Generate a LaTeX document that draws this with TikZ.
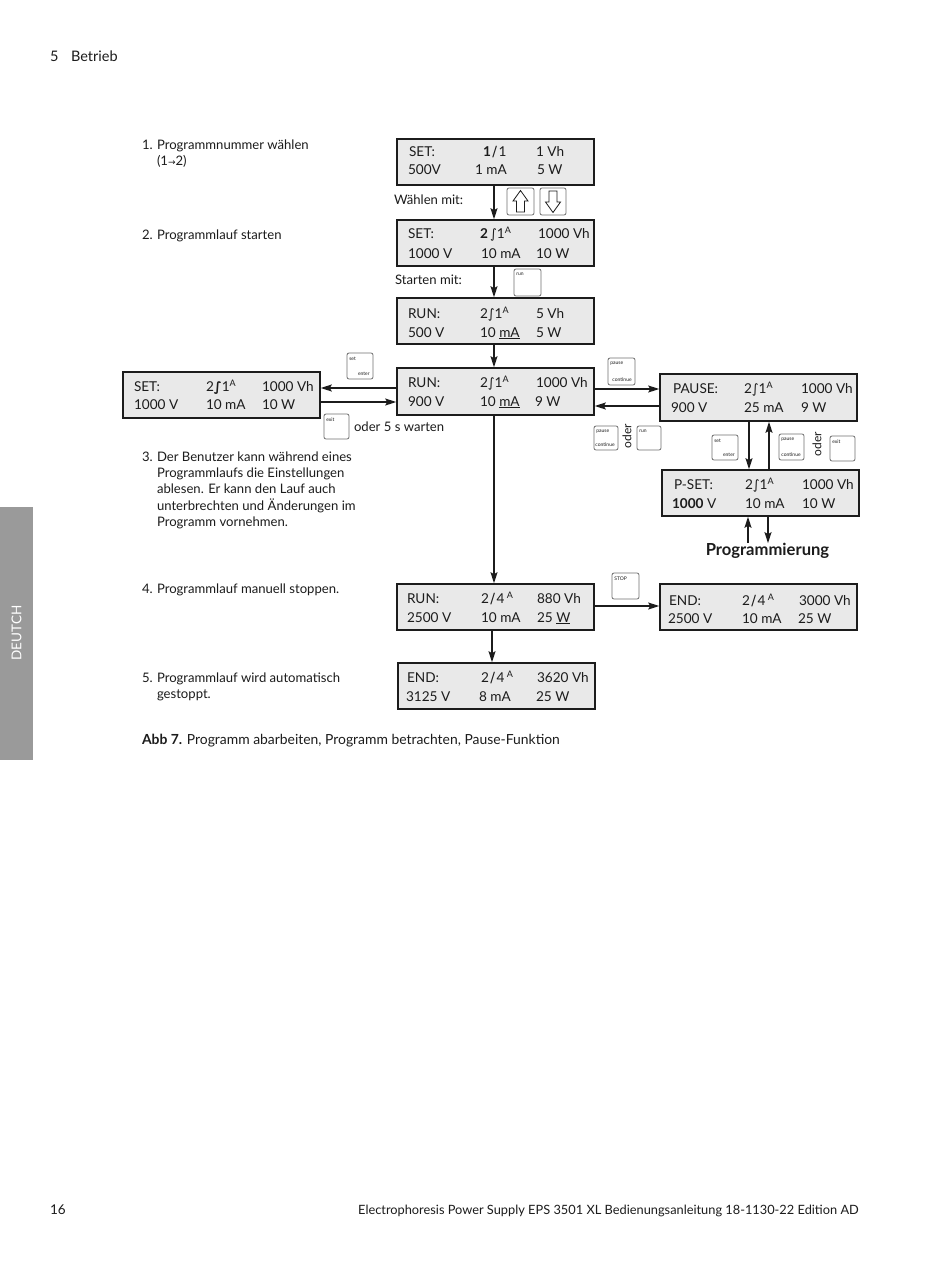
\documentclass[tikz,border=0pt]{standalone}
\usepackage{fontspec}
\setmainfont{Lato}
\newfontfamily\sym{DejaVu Sans}
\usetikzlibrary{arrows.meta,calc}
\definecolor{lcdfill}{HTML}{E9E9E9}
\definecolor{ink}{HTML}{1C1C1C}
\definecolor{keyline}{HTML}{707070}
\definecolor{tab}{HTML}{9A9A9A}
\newcounter{tc}
\newcommand{\lcdfont}{\fontsize{13.6}{16}\selectfont}
\newcommand{\bodyfont}{\fontsize{13.1}{15}\selectfont}
\newcommand{\tx}[3]{\stepcounter{tc}\node[txt] (t\thetc) at (#1,#2) {\lcdfont #3};}
\newcommand{\bx}[3]{\stepcounter{tc}\node[txt] (t\thetc) at (#1,#2) {\bodyfont #3};}
\newcommand{\ramp}{{\sym\fontsize{13}{13}\selectfont ∫}}
\newcommand{\slashg}{\kern1.5pt{\sym\fontsize{14}{14}\selectfont ∕}\kern1.5pt}
\newcommand{\sA}{\raisebox{4.5pt}{\fontsize{9}{9}\selectfont A}}
\newcommand{\lcd}[5]{\node[lcd,minimum width=#4-#2,minimum height=#5-#3] (#1) at ({(#2+#4)/2},{(#3+#5)/2}) {};}
\newcommand{\keybox}[7]{\node[keyb,minimum width=#4,minimum height=#5] (#1) at ({#2+#4/2},{#3+#5/2}) {};
 \node[keyl,anchor=north west] (#1t) at ([xshift=2.5pt,yshift=-4pt]#1.north west) {#6};
 \node[keyl,anchor=south east] (#1b) at ([xshift=-3.5pt,yshift=4pt]#1.south east) {#7};}
\tikzset{
 lcd/.style={draw=ink,line width=1.7pt,fill=lcdfill,inner sep=0pt,outer sep=0.8pt},
 txt/.style={anchor=base west,inner sep=0pt,outer sep=0pt,text=ink},
 keyb/.style={draw=keyline,line width=0.8pt,rounded corners=2pt,fill=white,inner sep=0pt},
 keyl/.style={inner sep=0pt,font=\fontsize{5}{5.5}\selectfont,text=ink},
 conn/.style={draw=ink,line width=1.5pt,-{Stealth[length=11pt,width=7pt,inset=2pt]}},
 karrow/.style={draw=ink,line width=0.8pt,fill=white,line join=miter}
}
\begin{document}
\begin{tikzpicture}[x=1pt,y=-1pt]
\useasboundingbox (0,0) rectangle (950,1266);
\fill[white] (0,0) rectangle (950,1266);
% side tab
\node[fill=tab,minimum width=33pt,minimum height=253pt,inner sep=0pt,anchor=north west] (sidetab) at (0,507) {};
\node[rotate=90,text=white,inner sep=0pt,font=\fontsize{13.5}{15}\selectfont] (deutch) at (16.5,633) {DEUTCH};
% header and footer
\node[txt] (hd1) at (50,61) {\fontsize{14.5}{16}\selectfont 5};
\node[txt] (hd2) at (71,61) {\fontsize{14.5}{16}\selectfont Betrieb};
\node[txt] (ft1) at (50,1214) {\fontsize{13.5}{16}\selectfont 16};
\node[anchor=base east,inner sep=0pt,text=ink] (ft2) at (859,1214) {\fontsize{12.8}{16}\selectfont Electrophoresis Power Supply EPS 3501 XL Bedienungsanleitung 18-1130-22 Edition AD};
% boxes
\lcd{a}{397}{139}{594}{185}
\lcd{b}{397}{220}{594}{266}
\lcd{c}{397}{298}{594}{344}
\lcd{d}{397}{368}{594}{415}
\lcd{s}{123}{372}{320}{418}
\lcd{p}{660}{374}{857}{421}
\lcd{q}{662}{470}{859}{516}
\lcd{e}{397}{584}{594}{630}
\lcd{f}{660}{584}{857}{630}
\lcd{g}{398}{663}{595}{709}
% box texts
\tx{409}{156}{SET:}\tx{483}{156}{\textbf{1}\slashg 1}\tx{536}{156}{1 Vh}
\tx{408}{174}{500V}\tx{475}{174}{1 mA}\tx{537}{174}{5 W}
\tx{408}{238}{SET:}\tx{480}{238}{\textbf{2}\,\ramp 1\sA}\tx{538}{238}{1000 Vh}
\tx{408}{258}{1000 V}\tx{481}{258}{10 mA}\tx{536}{258}{10 W}
\tx{408}{318}{RUN:}\tx{480}{318}{2\ramp 1\sA}\tx{536}{318}{5 Vh}
\tx{408}{337}{500 V}\tx{480}{337}{10 \underline{mA}}\tx{536}{337}{5 W}
\tx{408}{387}{RUN:}\tx{480}{387}{2\ramp 1\sA}\tx{536}{387}{1000 Vh}
\tx{408}{406}{900 V}\tx{480}{406}{10 \underline{mA}}\tx{535}{406}{9 W}
\tx{134}{391}{SET:}\tx{206}{391}{2\textbf{\ramp}1\sA}\tx{262}{391}{1000 Vh}
\tx{134}{409}{1000 V}\tx{206}{409}{10 mA}\tx{262}{409}{10 W}
\tx{673}{393}{PAUSE:}\tx{744}{393}{2\ramp 1\sA}\tx{801}{393}{1000 Vh}
\tx{671}{412}{900 V}\tx{744}{412}{25 mA}\tx{801}{412}{9 W}
\tx{674}{489}{P-SET:}\tx{745}{489}{2\ramp 1\sA}\tx{802}{489}{1000 Vh}
\tx{672}{508}{\textbf{1000} V}\tx{745}{508}{10 mA}\tx{802}{508}{10 W}
\tx{407}{603}{RUN:}\tx{481}{603}{2\slashg 4\,\sA}\tx{537}{603}{880 Vh}
\tx{407}{622}{2500 V}\tx{481}{622}{10 mA}\tx{537}{622}{25 \underline{W}}
\tx{669}{605}{END:}\tx{742}{605}{2\slashg 4\,\sA}\tx{799}{605}{3000 Vh}
\tx{668}{623}{2500 V}\tx{742}{623}{10 mA}\tx{798}{623}{25 W}
\tx{407}{682}{END:}\tx{481}{682}{2\slashg 4\,\sA}\tx{537}{682}{3620 Vh}
\tx{406}{701}{3125 V}\tx{479}{701}{8 mA}\tx{536}{701}{25 W}
% left column
\bx{142}{149}{1.}\bx{157}{149}{Programmnummer wählen}
\bx{157}{165}{(1{\sym\fontsize{9}{9}\selectfont →}2)}
\bx{142}{239}{2.}\bx{157}{239}{Programmlauf starten}
\bx{142}{461}{3.}\bx{157}{461}{Der Benutzer kann während eines}
\bx{157}{477}{Programmlaufs die Einstellungen}
\bx{157}{493}{ablesen. Er kann den Lauf auch}
\bx{157}{510}{unterbrechten und Änderungen im}
\bx{157}{526}{Programm vornehmen.}
\bx{142}{593}{4.}\bx{157}{593}{Programmlauf manuell stoppen.}
\bx{142}{682}{5.}\bx{157}{682}{Programmlauf wird automatisch}
\bx{157}{698}{gestoppt.}
\node[txt] (cap) at (142,744) {\fontsize{13.9}{16}\selectfont\textbf{Abb 7.} Programm abarbeiten, Programm betrachten, Pause-Funktion};
\bx{394}{204}{Wählen mit:}
\bx{395}{284}{Starten mit:}
\bx{354}{431}{oder 5 s warten}
\node[rotate=90,inner sep=0pt,text=ink,font=\fontsize{12}{14}\selectfont] (od1) at (627,436) {oder};
\node[rotate=90,inner sep=0pt,text=ink,font=\fontsize{12}{14}\selectfont] (od2) at (817,444) {oder};
\node[inner sep=0pt,text=ink,font=\fontsize{16.6}{18}\bfseries\selectfont] (prog) at (767.5,551) {Programmierung};
% keys
\keybox{kup}{507}{188}{27}{27}{}{}
\keybox{kdn}{540}{188}{26}{27}{}{}
\draw[karrow] (520.5,190.5) -- (528,201) -- (524.5,201) -- (524.5,212) -- (516.5,212) -- (516.5,201) -- (513,201) -- cycle;
\draw[karrow] (553,212.5) -- (560.5,202) -- (557,202) -- (557,191) -- (549,191) -- (549,202) -- (545.5,202) -- cycle;
\keybox{krun}{514}{269}{27}{27}{run}{}
\keybox{kse}{347}{353}{26}{26}{set}{enter}
\keybox{kex}{324}{414}{25}{25}{exit}{}
\keybox{kpc}{608}{358}{27}{27}{pause}{continue}
\keybox{kpd}{594}{426}{24}{24}{pause}{continue}
\keybox{krn}{637}{426}{24}{24}{run}{}
\keybox{kss}{712}{435}{26}{25}{set}{enter}
\keybox{kpu}{779}{434}{25}{26}{pause}{continue}
\keybox{kxt}{830}{436}{25}{25}{exit}{}
\keybox{kst}{612}{573}{27}{26}{STOP}{}
% connectors
\draw[conn] (a.south-|494,0) -- (b.north-|494,0);
\draw[conn] (b.south-|494,0) -- (c.north-|494,0);
\draw[conn] (c.south-|494,0) -- (d.north-|494,0);
\draw[conn] (d.south-|494,0) -- (e.north-|494,0);
\draw[conn] (e.south-|492,0) -- (g.north-|492,0);
\draw[conn] (d.west|-0,388) -- (s.east|-0,388);
\draw[conn] (s.east|-0,402) -- (d.west|-0,402);
\draw[conn] (d.east|-0,389) -- (p.west|-0,389);
\draw[conn] (p.west|-0,406) -- (d.east|-0,406);
\draw[conn] (p.south-|749,0) -- (q.north-|749,0);
\draw[conn] (q.north-|769,0) -- (p.south-|769,0);
\draw[conn] (prog.north-|748,0) -- (q.south-|748,0);
\draw[conn] (q.south-|768,0) -- (prog.north-|768,0);
\draw[conn] (e.east|-0,606) -- (f.west|-0,606);
\end{tikzpicture}
\end{document}
